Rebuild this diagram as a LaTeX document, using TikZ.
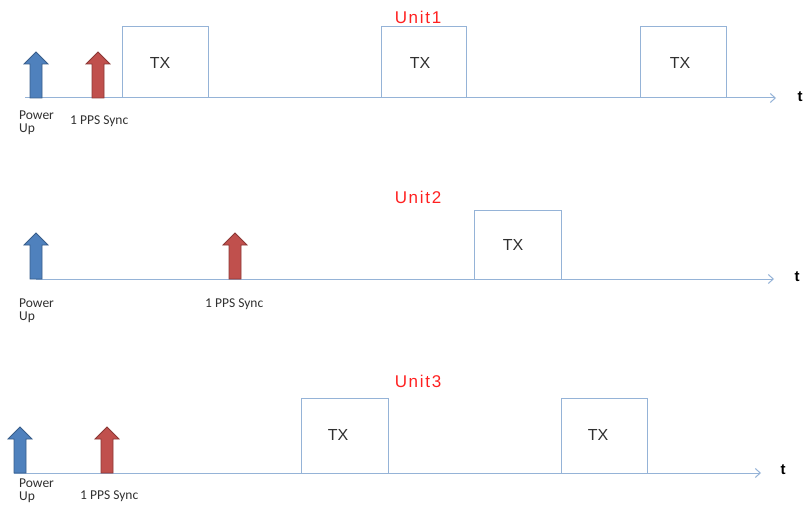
\documentclass[tikz,border=0pt]{standalone}
\usepackage{fontspec}
\setmainfont{Liberation Sans}
\newfontfamily\lblfont{Carlito}
\newfontfamily\unitfont[LetterSpace=10]{Liberation Sans}
\usetikzlibrary{arrows.meta}
\definecolor{axisblue}{HTML}{95B3D7}
\definecolor{pwrfill}{HTML}{4F81BD}
\definecolor{pwrline}{HTML}{385D8A}
\definecolor{syncfill}{HTML}{C0504D}
\definecolor{syncline}{HTML}{8C3836}
\definecolor{unitred}{HTML}{FF2020}
\definecolor{lbltext}{HTML}{303030}
\tikzset{
  axis/.style={draw=axisblue, line width=1pt, -{Straight Barb[length=5pt,width=9pt]}},
  txbox/.style={draw=axisblue, line width=1pt},
  txlabel/.style={text=lbltext, font=\fontsize{16}{16}\selectfont},
  tlabel/.style={font=\fontsize{15}{15}\selectfont\bfseries, anchor=center},
  unitlabel/.style={text=unitred, font=\unitfont\fontsize{17}{17}\selectfont},
  evlabel/.style={text=lbltext, font=\lblfont\fontsize{13.5}{13}\selectfont, align=left, inner sep=0pt},
  % block arrow standing on the axis: 46 high, shaft 12 wide, head 24 wide and 12 high
  pics/evarrow/.style 2 args={code={
    \filldraw[fill=#1, draw=#2, line width=0.8pt, line join=miter]
      (-6,0) -- (-6,-34) -- (-12,-34) -- (0,-46) -- (12,-34) -- (6,-34) -- (6,0) -- cycle;
  }},
}
\begin{document}
\begin{tikzpicture}[x=1pt,y=-1pt]
\useasboundingbox (0,0) rectangle (804,511);

% ---- Unit 1 ----
\node[unitlabel] (u1) at (418,17) {Unit1};
\coordinate (a1s) at (25,98);
\coordinate (a1e) at (776,98);
\draw[axis] (a1s) -- (a1e);
\node[tlabel] (t1) at (800,97) {t};
\draw[txbox] (122,98) |- (208,27) -- (208,98);
\node[txlabel] (tx11) at (160,63) {TX};
\draw[txbox] (381,98) |- (466,27) -- (466,98);
\node[txlabel] (tx12) at (420,63) {TX};
\draw[txbox] (640,98) |- (726,27) -- (726,98);
\node[txlabel] (tx13) at (680,63) {TX};
\pic at (36,98) {evarrow={pwrfill}{pwrline}};
\pic at (98,98) {evarrow={syncfill}{syncline}};
\node[evlabel, anchor=north west] (pl1) at (19,111) {Power\\Up};
\node[evlabel, anchor=north west] (sl1) at (70,116) {1 PPS Sync};

% ---- Unit 2 ----
\node[unitlabel] (u2) at (418,197) {Unit2};
\coordinate (a2s) at (36,279);
\coordinate (a2e) at (774,279);
\draw[axis] (a2s) -- (a2e);
\node[tlabel] (t2) at (797,277) {t};
\draw[txbox] (474,279) |- (561,210) -- (561,279);
\node[txlabel] (tx21) at (513,245) {TX};
\pic at (36,279) {evarrow={pwrfill}{pwrline}};
\pic at (235,279) {evarrow={syncfill}{syncline}};
\node[evlabel, anchor=north west] (pl2) at (19,299) {Power\\Up};
\node[evlabel, anchor=north west] (sl2) at (205,299) {1 PPS Sync};

% ---- Unit 3 ----
\node[unitlabel] (u3) at (418,381) {Unit3};
\coordinate (a3s) at (14,473);
\coordinate (a3e) at (761,473);
\draw[axis] (a3s) -- (a3e);
\node[tlabel] (t3) at (783,470) {t};
\draw[txbox] (301,473) |- (388,398) -- (388,473);
\node[txlabel] (tx31) at (338,435) {TX};
\draw[txbox] (561,473) |- (647,398) -- (647,473);
\node[txlabel] (tx32) at (598,435) {TX};
\pic at (20,473) {evarrow={pwrfill}{pwrline}};
\pic at (107,473) {evarrow={syncfill}{syncline}};
\node[evlabel, anchor=north west] (pl3) at (19,479) {Power\\Up};
\node[evlabel, anchor=north west] (sl3) at (80,491) {1 PPS Sync};
\end{tikzpicture}
\end{document}
